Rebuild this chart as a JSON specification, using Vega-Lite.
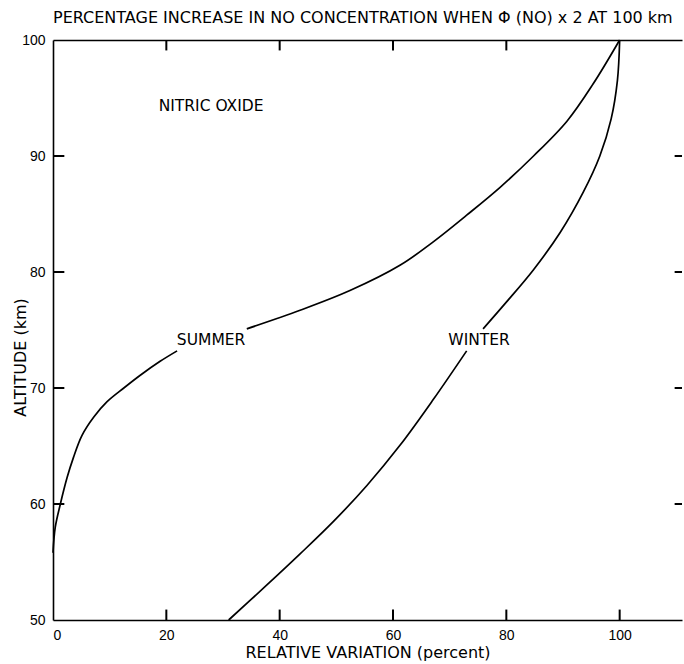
{
  "$schema": "https://vega.github.io/schema/vega-lite/v6.json",
  "autosize": "none",
  "width": 629,
  "height": 580,
  "padding": {"left": 53, "top": 40, "right": 2, "bottom": 44},
  "background": "white",
  "config": {
    "view": {"stroke": null},
    "axis": {"grid": false, "domainColor": "black", "tickColor": "black", "labelColor": "black", "titleColor": "black", "domainWidth": 1.6, "labelFont": "Liberation Sans", "labelFontSize": 14, "titleFont": "DejaVu Sans", "titleFontSize": 16, "titleFontWeight": "normal"}
  },
  "title": {"text": "PERCENTAGE INCREASE IN NO CONCENTRATION WHEN Φ (NO) x 2 AT 100 km", "anchor": "start", "frame": "group", "offset": -6, "baseline": "alphabetic", "fontSize": 16, "font": "DejaVu Sans", "fontWeight": "normal", "color": "black"},
  "datasets": {
    "curves": [
      {"season": "SUMMER", "seg": "s1", "v": 0, "alt": 55.8},
      {"season": "SUMMER", "seg": "s1", "v": 0.4, "alt": 58.0},
      {"season": "SUMMER", "seg": "s1", "v": 1.3, "alt": 60.0},
      {"season": "SUMMER", "seg": "s1", "v": 2.5, "alt": 62.3},
      {"season": "SUMMER", "seg": "s1", "v": 3.6, "alt": 64.0},
      {"season": "SUMMER", "seg": "s1", "v": 5.1, "alt": 65.9},
      {"season": "SUMMER", "seg": "s1", "v": 7.2, "alt": 67.5},
      {"season": "SUMMER", "seg": "s1", "v": 9.5, "alt": 68.8},
      {"season": "SUMMER", "seg": "s1", "v": 12.5, "alt": 70.0},
      {"season": "SUMMER", "seg": "s1", "v": 15.4, "alt": 71.1},
      {"season": "SUMMER", "seg": "s1", "v": 18.9, "alt": 72.3},
      {"season": "SUMMER", "seg": "s1", "v": 21.9, "alt": 73.2},
      {"season": "SUMMER", "seg": "s2", "v": 34.2, "alt": 75.1},
      {"season": "SUMMER", "seg": "s2", "v": 43.6, "alt": 76.7},
      {"season": "SUMMER", "seg": "s2", "v": 52.4, "alt": 78.4},
      {"season": "SUMMER", "seg": "s2", "v": 61.3, "alt": 80.6},
      {"season": "SUMMER", "seg": "s2", "v": 67.1, "alt": 82.6},
      {"season": "SUMMER", "seg": "s2", "v": 73.0, "alt": 84.9},
      {"season": "SUMMER", "seg": "s2", "v": 78.9, "alt": 87.3},
      {"season": "SUMMER", "seg": "s2", "v": 84.8, "alt": 90.0},
      {"season": "SUMMER", "seg": "s2", "v": 90.7, "alt": 93.0},
      {"season": "SUMMER", "seg": "s2", "v": 95.3, "alt": 96.2},
      {"season": "SUMMER", "seg": "s2", "v": 100, "alt": 100},
      {"season": "WINTER", "seg": "w1", "v": 31.0, "alt": 50.0},
      {"season": "WINTER", "seg": "w1", "v": 37.7, "alt": 53.0},
      {"season": "WINTER", "seg": "w1", "v": 43.6, "alt": 55.7},
      {"season": "WINTER", "seg": "w1", "v": 49.5, "alt": 58.5},
      {"season": "WINTER", "seg": "w1", "v": 55.4, "alt": 61.6},
      {"season": "WINTER", "seg": "w1", "v": 61.3, "alt": 65.1},
      {"season": "WINTER", "seg": "w1", "v": 67.1, "alt": 69.0},
      {"season": "WINTER", "seg": "w1", "v": 73.0, "alt": 73.2},
      {"season": "WINTER", "seg": "w2", "v": 75.9, "alt": 75.1},
      {"season": "WINTER", "seg": "w2", "v": 80.0, "alt": 77.4},
      {"season": "WINTER", "seg": "w2", "v": 84.8, "alt": 80.2},
      {"season": "WINTER", "seg": "w2", "v": 89.5, "alt": 83.4},
      {"season": "WINTER", "seg": "w2", "v": 93.6, "alt": 86.9},
      {"season": "WINTER", "seg": "w2", "v": 96.5, "alt": 90.0},
      {"season": "WINTER", "seg": "w2", "v": 98.5, "alt": 93.2},
      {"season": "WINTER", "seg": "w2", "v": 99.6, "alt": 96.5},
      {"season": "WINTER", "seg": "w2", "v": 100, "alt": 100}
    ],
    "labels": [
      {"label": "SUMMER", "v": 27.9, "alt": 74.1},
      {"label": "WINTER", "v": 75.2, "alt": 74.1},
      {"label": "NITRIC OXIDE", "v": 27.9, "alt": 94.3}
    ],
    "xticks": [{"v": 20}, {"v": 40}, {"v": 60}, {"v": 80}, {"v": 100}],
    "yticks": [{"alt": 60}, {"alt": 70}, {"alt": 80}, {"alt": 90}]
  },
  "layer": [
    {
      "data": {"name": "xticks"},
      "mark": {"type": "rule", "color": "black", "strokeWidth": 2},
      "encoding": {
        "x": {"field": "v", "type": "quantitative", "scale": {"domain": [0, 111], "nice": false, "zero": false},
              "axis": {"orient": "bottom", "values": [0, 20, 40, 60, 80, 100], "ticks": false, "labelPadding": 8, "title": "RELATIVE VARIATION (percent)", "titleY": 37, "titleBaseline": "alphabetic"}},
        "y": {"datum": 50, "type": "quantitative", "scale": {"domain": [50, 100], "nice": false, "zero": false},
              "axis": {"orient": "left", "values": [50, 60, 70, 80, 90, 100], "ticks": false, "labelPadding": 8, "title": "ALTITUDE (km)", "titleAngle": 270, "titleX": -28, "titleY": 317, "titleBaseline": "alphabetic", "titleAlign": "center"}},
        "y2": {"datum": 50.9}
      }
    },
    {
      "data": {"name": "xticks"},
      "transform": [{"filter": "datum.v < 100"}],
      "mark": {"type": "rule", "color": "black", "strokeWidth": 2},
      "encoding": {
        "x": {"field": "v", "type": "quantitative", "axis": {"orient": "top", "ticks": false, "labels": false, "title": null}},
        "y": {"datum": 100, "type": "quantitative", "axis": null},
        "y2": {"datum": 99.1}
      }
    },
    {
      "data": {"name": "yticks"},
      "mark": {"type": "rule", "color": "black", "strokeWidth": 2},
      "encoding": {
        "y": {"field": "alt", "type": "quantitative", "axis": null},
        "x": {"datum": 0, "type": "quantitative", "axis": null},
        "x2": {"datum": 2.0}
      }
    },
    {
      "data": {"name": "yticks"},
      "mark": {"type": "rule", "color": "black", "strokeWidth": 2},
      "encoding": {
        "y": {"field": "alt", "type": "quantitative", "axis": null},
        "x": {"datum": 111, "type": "quantitative", "axis": null},
        "x2": {"datum": 109.7}
      }
    },
    {
      "data": {"name": "curves"},
      "mark": {"type": "line", "interpolate": "catmull-rom", "color": "black", "strokeWidth": 1.7},
      "encoding": {
        "x": {"field": "v", "type": "quantitative", "axis": null},
        "y": {"field": "alt", "type": "quantitative", "axis": null},
        "detail": {"field": "seg", "type": "nominal"}
      }
    },
    {
      "data": {"name": "labels"},
      "mark": {"type": "text", "font": "DejaVu Sans", "fontSize": 15.5, "color": "black", "align": "center", "baseline": "middle"},
      "encoding": {
        "x": {"field": "v", "type": "quantitative", "axis": null},
        "y": {"field": "alt", "type": "quantitative", "axis": null},
        "text": {"field": "label", "type": "nominal"}
      }
    }
  ],
  "resolve": {"axis": {"x": "independent", "y": "independent"}}
}
